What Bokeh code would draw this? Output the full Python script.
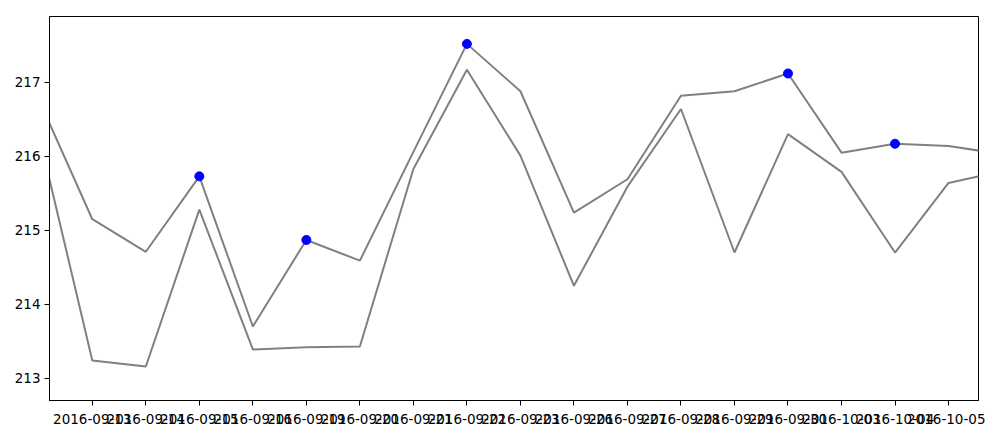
from bokeh.plotting import figure
from bokeh.models import Range1d, FixedTicker
from bokeh.embed import file_html
from bokeh.resources import INLINE

dates = ["2016-09-12", "2016-09-13", "2016-09-14", "2016-09-15", "2016-09-16",
         "2016-09-19", "2016-09-20", "2016-09-21", "2016-09-22", "2016-09-23",
         "2016-09-26", "2016-09-27", "2016-09-28", "2016-09-29", "2016-09-30",
         "2016-10-03", "2016-10-04", "2016-10-05", "2016-10-06"]
upper = [216.77, 215.15, 214.71, 215.73, 213.70, 214.87, 214.59, 216.06, 217.52,
         216.88, 215.24, 215.69, 216.82, 216.88, 217.12, 216.05, 216.17, 216.14, 216.03]
lower = [216.30, 213.24, 213.16, 215.28, 213.39, 213.42, 213.43, 215.83, 217.17,
         216.01, 214.25, 215.59, 216.64, 214.70, 216.30, 215.79, 214.70, 215.64, 215.80]
marked_dates = ["2016-09-15", "2016-09-19", "2016-09-22", "2016-09-30", "2016-10-04"]
y_ticks = [213, 214, 215, 216, 217]

xs = [i - 1 for i in range(len(dates))]
mx = [dates.index(d) - 1 for d in marked_dates]
my = [upper[dates.index(d)] for d in marked_dates]

p = figure(width=985, height=428, output_backend="svg", toolbar_location=None,
           x_range=Range1d(-0.8, 16.56), y_range=Range1d(212.70, 217.89),
           min_border_left=49, min_border_right=7, min_border_top=16, min_border_bottom=28)
p.xgrid.visible = False
p.ygrid.visible = False
p.outline_line_color = "black"
p.outline_line_alpha = 1.0
p.outline_line_width = 1

p.line(xs, upper, line_color="#808080", line_width=2)
p.line(xs, lower, line_color="#808080", line_width=2)
p.scatter(mx, my, size=9, fill_color="#0000ff", line_color="#0000ff")

tick_idx = list(range(0, 17))
p.xaxis.ticker = FixedTicker(ticks=tick_idx)
p.xaxis.major_label_overrides = {i: dates[i + 1] for i in tick_idx}
p.yaxis.ticker = FixedTicker(ticks=y_ticks)
for ax in (p.xaxis, p.yaxis):
    ax.minor_tick_line_color = None
    ax.major_tick_out = 5
    ax.major_tick_in = 0
    ax.axis_line_color = "black"
    ax.major_tick_line_color = "black"
    ax.major_label_text_font = "DejaVu Sans"
    ax.major_label_text_font_size = "13.5px"
    ax.major_label_text_color = "black"
    ax.major_label_standoff = 4
p.xaxis.major_label_standoff = 8

open("out.html", "w").write(file_html(p, INLINE))
